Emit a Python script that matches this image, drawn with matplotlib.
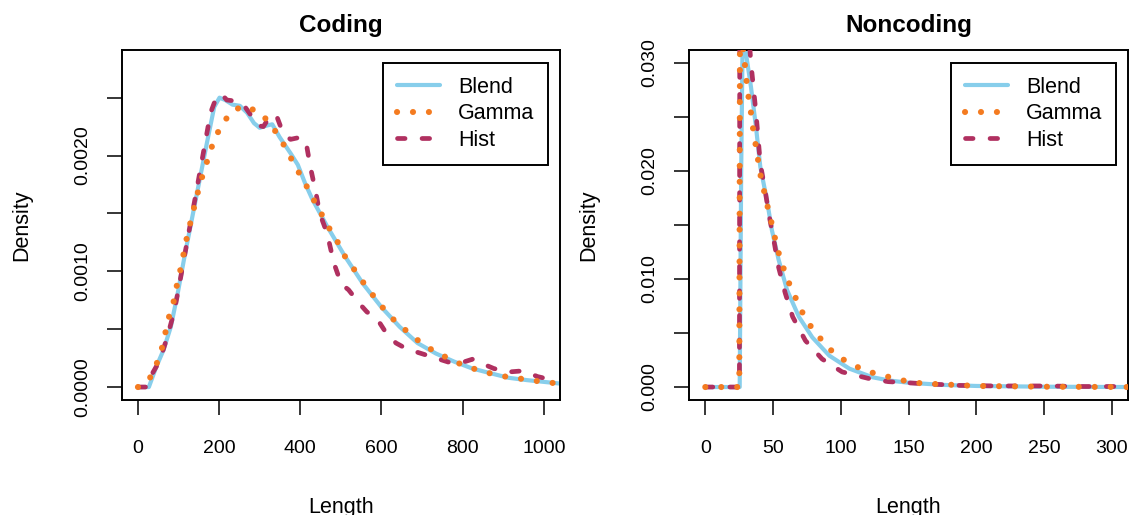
import numpy as np
import matplotlib
matplotlib.use('Agg')
import matplotlib.pyplot as plt

# Params
plt.rcParams['font.family'] = ['Liberation Sans', 'DejaVu Sans']
blend_color = '#87CEEB'
gamma_color = '#F47B20'
hist_color = '#B03060'

# Coding panel
coding_blend_x = [0, 27, 45, 63, 81, 98, 116, 134, 152, 170, 188, 201, 215, 233, 251, 269, 286, 300,
                  318, 331, 349, 376, 394, 412, 430, 466, 510, 555, 600, 645, 689, 734, 779, 824,
                  868, 913, 958, 1040]
coding_blend_y = [0, 0, 0.000173, 0.00032, 0.00052, 0.00081, 0.00115, 0.00147, 0.00179, 0.00211,
                  0.00242, 0.0025, 0.00248, 0.00244, 0.00243, 0.00237, 0.00228, 0.00224, 0.00226,
                  0.00227, 0.00216, 0.00202, 0.00192, 0.00176, 0.00162, 0.00139, 0.00113, 0.00089,
                  0.00069, 0.00052, 0.00038, 0.00029, 0.00022, 0.00016, 0.00012, 0.00008, 0.00006,
                  0.00003]

coding_gamma_x = [0, 27, 45, 58, 67, 76, 88, 96, 105, 121, 141, 151, 162, 175, 188, 206, 230, 261,
                  302, 329, 352, 372, 392, 412, 431, 450, 470, 491, 510, 534, 558, 582, 607, 636,
                  667, 698, 734, 770, 806, 846, 886, 927, 967, 1007, 1040]
coding_gamma_y = [0, 0.00006, 0.00019, 0.00032, 0.00046, 0.0006, 0.00074, 0.00088, 0.00102, 0.0013,
                  0.00159, 0.00173, 0.00186, 0.002, 0.00214, 0.00226, 0.00238, 0.00243, 0.00237,
                  0.00226, 0.00214, 0.00201, 0.00188, 0.00176, 0.00163, 0.00151, 0.00138, 0.00126,
                  0.00113, 0.00101, 0.00089, 0.00078, 0.00067, 0.00056, 0.00047, 0.00038, 0.0003,
                  0.00024, 0.00018, 0.00014, 0.0001, 0.00008, 0.00006, 0.00004, 0.00003]

coding_hist_x = [0, 22, 36, 54, 72, 90, 107, 125, 143, 161, 179, 194, 206, 219, 242, 260, 278, 295,
                 309, 327, 342, 358, 376, 403, 416, 425, 439, 448, 466, 483, 501, 519, 546, 564,
                 591, 613, 636, 662, 698, 734, 770, 806, 824, 850, 877, 913, 949, 985, 1010]
coding_hist_y = [0, 0, 0.00012, 0.00023, 0.00043, 0.00066, 0.00098, 0.00133, 0.00167, 0.00202,
                 0.00237, 0.00251, 0.00253, 0.00248, 0.00247, 0.00244, 0.00235, 0.00226, 0.00225,
                 0.00235, 0.00234, 0.00219, 0.00214, 0.00216, 0.00208, 0.0019, 0.00167, 0.0015,
                 0.00133, 0.00107, 0.00089, 0.00084, 0.00072, 0.00065, 0.00058, 0.00046, 0.00038,
                 0.00033, 0.00029, 0.00025, 0.00021, 0.00022, 0.00024, 0.0002, 0.00016, 0.00013,
                 0.00014, 0.00009, 0.00007]

# Noncoding panel
noncoding_blend_x = [0, 25.4, 26.5, 27.5, 28.5, 30, 33.7, 37.4, 40.6, 45.5, 49.2, 54.1, 60.3, 69.1,
                     79, 91.6, 106.4, 123.6, 136, 150, 175, 200, 250, 312]
noncoding_blend_y = [0, 0, 0.02, 0.0315, 0.034, 0.0309, 0.0278, 0.0241, 0.0204, 0.0173, 0.0145,
                     0.0118, 0.009, 0.0065, 0.0046, 0.0029, 0.0017, 0.0009, 0.0006, 0.0004, 0.0002,
                     0.0001, 0.00003, 0]

noncoding_gamma_x = [0, 25.1, 25.6, 27.5, 28.8, 31.2, 33.3, 34.8, 38.6, 40.6, 46, 48.9, 51.6, 54.6,
                     58.3, 62.8, 68, 73.2, 79.6, 87.6, 96.7, 107, 117.9, 130.5, 142.5, 154, 166.5,
                     200, 250, 312]
noncoding_gamma_y = [0, 0, 0.0325, 0.0318, 0.0304, 0.0274, 0.0258, 0.0243, 0.0213, 0.0197, 0.0167,
                     0.0152, 0.0137, 0.0122, 0.0108, 0.0093, 0.0079, 0.0065, 0.0053, 0.0041, 0.0029,
                     0.0022, 0.0015, 0.0011, 0.0007, 0.0004, 0.0003, 0.0001, 0.00003, 0]

noncoding_hist_x = [0, 25.2, 25.5, 30, 33.7, 37.4, 40.6, 44.3, 46.8, 51, 54.1, 59, 64.5, 73.9, 86.2,
                    101, 121, 135, 162, 188, 215, 250, 280, 312]
noncoding_hist_y = [0, 0, 0.04, 0.036, 0.030, 0.0254, 0.0207, 0.0181, 0.0161, 0.0133, 0.0111,
                    0.0087, 0.0065, 0.0043, 0.0026, 0.0014, 0.00078, 0.0005, 0.0003, 0.00015,
                    0.0001, 0.0001, 0.00005, 0.00005]

coding_xticks = [0, 200, 400, 600, 800, 1000]
coding_yticks = [0, 0.0005, 0.001, 0.0015, 0.002, 0.0025]
coding_ylabels = ['0.0000', '', '0.0010', '', '0.0020', '']
noncoding_xticks = [0, 50, 100, 150, 200, 250, 300]
noncoding_yticks = [0, 0.005, 0.01, 0.015, 0.02, 0.025, 0.03]
noncoding_ylabels = ['0.000', '', '0.010', '', '0.020', '', '0.030']


def main():
    fig = plt.figure(figsize=(11.29, 5.15), dpi=100)
    ax1 = fig.add_axes([0.1078, 0.2233, 0.3882, 0.6796])
    ax2 = fig.add_axes([0.6103, 0.2233, 0.3888, 0.6796])

    plot_panel(ax1, 'Coding',
               (coding_blend_x, coding_blend_y),
               (coding_gamma_x, coding_gamma_y),
               (coding_hist_x, coding_hist_y))
    ax1.set_xlim(-40, 1040)
    ax1.set_ylim(-0.000112, 0.002912)
    set_ticks(ax1, coding_xticks, coding_yticks, coding_ylabels)

    plot_panel(ax2, 'Noncoding',
               (noncoding_blend_x, noncoding_blend_y),
               (noncoding_gamma_x, noncoding_gamma_y),
               (noncoding_hist_x, noncoding_hist_y))
    ax2.set_xlim(-12, 312)
    ax2.set_ylim(-0.0012, 0.0312)
    set_ticks(ax2, noncoding_xticks, noncoding_yticks, noncoding_ylabels)

    fig.savefig('out.png', dpi=100)


def plot_panel(ax, title, blend, gamma, hist):
    """
    :param ax: axes to draw on
    :param title: panel title
    :param blend, gamma, hist: (x, y) density curves
    """
    ax.plot(blend[0], blend[1], color=blend_color, lw=3.0, solid_capstyle='round',
            solid_joinstyle='round', label='Blend', zorder=2)
    ax.plot(hist[0], hist[1], color=hist_color, lw=3.4, linestyle=(0, (1.6, 3.6)),
            dash_capstyle='round', label='Hist', zorder=3)
    ax.plot(gamma[0], gamma[1], color=gamma_color, lw=4.4, linestyle=(0, (0.01, 2.6)),
            dash_capstyle='round', label='Gamma', zorder=4)

    handles, labels = ax.get_legend_handles_labels()
    order = [labels.index(n) for n in ['Blend', 'Gamma', 'Hist']]
    leg = ax.legend([handles[i] for i in order], [labels[i] for i in order],
                    loc='upper right', bbox_to_anchor=(0.973, 0.963), borderaxespad=0,
                    fontsize=15.5, fancybox=False, framealpha=1, edgecolor='black',
                    handlelength=2.0, handletextpad=0.85, labelspacing=0.25,
                    borderpad=0.65)
    leg.get_frame().set_linewidth(1.4)

    ax.set_title(title, fontsize=17.5, fontweight='bold', pad=13)
    ax.set_xlabel('Length', fontsize=15.5)
    ax.set_ylabel('Density', fontsize=15.5)
    ax.xaxis.set_label_coords(0.5, -0.276)
    ax.yaxis.set_label_coords(-0.205, 0.5)
    for sp in ax.spines.values():
        sp.set_linewidth(1.4)


def set_ticks(ax, xticks, yticks, ylabels):
    ax.set_xticks(xticks)
    ax.set_xticklabels([str(t) for t in xticks])
    ax.set_yticks(yticks)
    ax.set_yticklabels(ylabels)
    ax.tick_params(axis='both', direction='out', length=10.5, width=1.1, labelsize=14)
    ax.tick_params(axis='x', pad=18)
    ax.tick_params(axis='y', pad=11.5, labelrotation=90)
    for lbl in ax.get_yticklabels():
        lbl.set_va('center')


if __name__ == '__main__':
    main()
